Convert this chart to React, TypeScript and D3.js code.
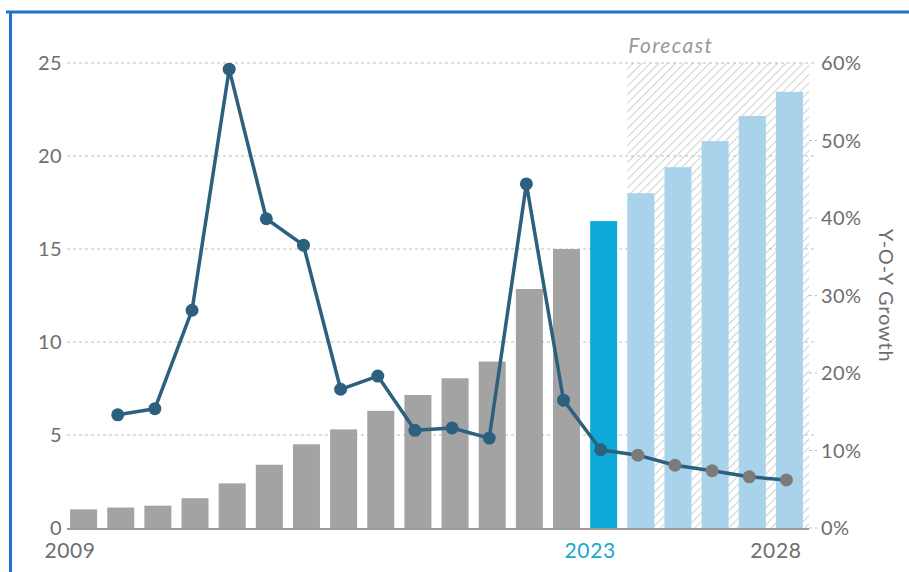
import React from "react";
import * as d3 from "d3";

const years = [2009, 2010, 2011, 2012, 2013, 2014, 2015, 2016, 2017, 2018, 2019, 2020, 2021, 2022, 2023, 2024, 2025, 2026, 2027, 2028];
const values = [1.0, 1.1, 1.2, 1.6, 2.4, 3.4, 4.5, 5.3, 6.3, 7.15, 8.05, 8.95, 12.85, 15.0, 16.5, 18.0, 19.4, 20.8, 22.15, 23.45];
const growthYears = [2010, 2011, 2012, 2013, 2014, 2015, 2016, 2017, 2018, 2019, 2020, 2021, 2022, 2023, 2024, 2025, 2026, 2027, 2028];
const growth = [14.6, 15.4, 28.1, 59.2, 39.9, 36.5, 17.9, 19.6, 12.6, 12.9, 11.6, 44.4, 16.5, 10.1, 9.4, 8.1, 7.4, 6.6, 6.2];
const leftTicks = [0, 5, 10, 15, 20, 25];
const rightTicks = [0, 10, 20, 30, 40, 50, 60];
const xLabels = [2009, 2023, 2028];
const currentYear = 2023;
const forecastStart = 2024;

const W = 909;
const H = 572;
const FONT = "Lato, 'Open Sans', sans-serif";

export default function App() {
  const x = d3.scaleBand<number>().domain(years).range([65, 808]).paddingInner(0.273).paddingOuter(0.137);
  const yL = d3.scaleLinear().domain([0, 25]).range([528, 63]);
  const yR = d3.scaleLinear().domain([0, 60]).range([528, 63]);
  const bw = x.bandwidth();
  const cx = (yr: number) => (x(yr) as number) + bw / 2 - 3;

  const line = d3.line<number>().x((_, i) => cx(growthYears[i])).y((d) => yR(d));
  const fx0 = x(forecastStart) as number;
  const fx1 = 809;

  return (
    <svg width={W} height={H} style={{ position: "absolute", left: 0, top: 0, background: "#fff" }} fontFamily={FONT}>
      <defs>
        <pattern id="hatch" patternUnits="userSpaceOnUse" width={6} height={6} patternTransform="rotate(45)">
          <line x1={0} y1={0} x2={0} y2={6} stroke="#d2d2d2" strokeWidth={2.2} />
        </pattern>
      </defs>
      <rect x={0} y={0} width={W} height={H} fill="#fff" />
      {/* frame */}
      <line x1={6} y1={12} x2={W} y2={12} stroke="#1b74c9" strokeWidth={3} />
      <line x1={10.5} y1={11} x2={10.5} y2={H} stroke="#1b74c9" strokeWidth={3} />

      {/* forecast hatch */}
      <rect x={fx0} y={yL(25)} width={fx1 - fx0} height={yL(0) - yL(25)} fill="url(#hatch)" />
      <text x={fx0 + 1} y={53} fontSize={21} fontStyle="italic" letterSpacing={1.4} fill="#9a9a9a">Forecast</text>

      {/* gridlines */}
      {leftTicks.filter((t) => t > 0).map((t) => (
        <line key={t} x1={67} x2={817} y1={yL(t)} y2={yL(t)} stroke="#bdbdbd" strokeWidth={1} strokeDasharray="3,3" />
      ))}
      {rightTicks.filter((t) => t > 0 && !leftTicks.some((l) => Math.abs(yL(l) - yR(t)) < 2)).map((t) => (
        <line key={"r" + t} x1={809} x2={817} y1={yR(t)} y2={yR(t)} stroke="#bdbdbd" strokeWidth={1} strokeDasharray="3,3" />
      ))}
      <line x1={809} x2={817} y1={yR(0)} y2={yR(0)} stroke="#bdbdbd" strokeWidth={1} strokeDasharray="3,3" />

      {/* bars */}
      {years.map((yr, i) => (
        <rect
          key={yr}
          x={x(yr)}
          y={yL(values[i])}
          width={bw}
          height={yL(0) - yL(values[i])}
          fill={yr < currentYear ? "#a3a3a3" : yr === currentYear ? "#0ea8d9" : "#a9d3ea"}
        />
      ))}

      {/* baseline */}
      <line x1={67} x2={809} y1={yL(0) + 1} y2={yL(0) + 1} stroke="#9a9a9a" strokeWidth={2} />

      {/* growth line */}
      <path d={line(growth) || ""} fill="none" stroke="#2d5f7f" strokeWidth={3.5} strokeLinejoin="round" />
      {growth.map((g, i) => (
        <circle key={i} cx={cx(growthYears[i])} cy={yR(g)} r={6.5} fill={growthYears[i] >= forecastStart ? "#7b7b7b" : "#2d5f7f"} />
      ))}

      {/* left ticks */}
      {leftTicks.map((t) => (
        <text key={t} x={62} y={yL(t)} dy="0.36em" textAnchor="end" fontSize={20} letterSpacing={0.4} fill="#6e6e6e">{t}</text>
      ))}
      {/* right ticks */}
      {rightTicks.map((t) => (
        <text key={t} x={821} y={yR(t)} dy="0.36em" textAnchor="start" fontSize={20} letterSpacing={0.4} fill="#6e6e6e">{t + "%"}</text>
      ))}
      {/* x labels */}
      {xLabels.map((yr) => (
        <text key={yr} x={x(yr) as number} y={558} textAnchor="middle" fontSize={21} letterSpacing={0.6} fill={yr === currentYear ? "#19a7cc" : "#6e6e6e"}>{yr}</text>
      ))}
      {/* right axis title */}
      <text transform={`translate(879, ${yR(30)}) rotate(90)`} textAnchor="middle" fontSize={20} letterSpacing={0.8} fill="#6e6e6e">Y-O-Y Growth</text>
    </svg>
  );
}
